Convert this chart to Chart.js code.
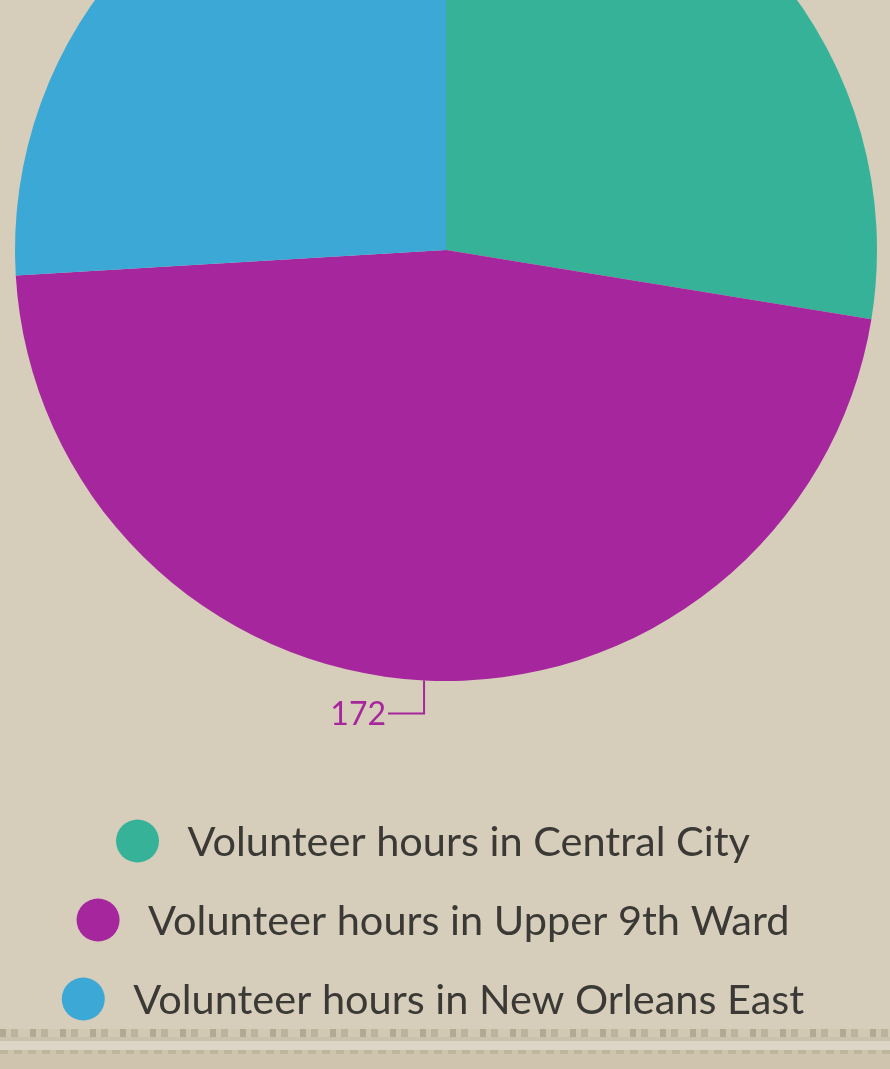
<!DOCTYPE html>
<html>
<head>
<meta charset="utf-8">
<script src="https://cdn.jsdelivr.net/npm/chart.js@4/dist/chart.umd.min.js"></script>
<style>
html,body{margin:0;padding:0;width:890px;height:1069px;overflow:hidden;background:#d6cdba;}
#wrap{position:absolute;left:0;top:-241px;width:890px;height:1310px;}
#strip1{position:absolute;left:0;top:1029px;width:890px;height:8px;
  background:repeating-linear-gradient(90deg,#b3a892 0 6px,#cfc6b1 6px 11px,#bdb29c 11px 18px,#d2c9b4 18px 30px);}
#strip2{position:absolute;left:0;top:1037px;width:890px;height:4px;background:#cbc2ad;}
#strip3{position:absolute;left:0;top:1041px;width:890px;height:9px;background:#ddd6c7;}
#strip4{position:absolute;left:0;top:1050px;width:890px;height:4px;
  background:repeating-linear-gradient(90deg,#bfb49d 0 8px,#cdc4ae 8px 14px);}
#strip5{position:absolute;left:0;top:1054px;width:890px;height:15px;background:#cfc5ae;}
</style>
</head>
<body>
<div id="wrap"><canvas id="c" width="890" height="1310"></canvas></div>
<div id="strip1"></div><div id="strip2"></div><div id="strip3"></div><div id="strip4"></div><div id="strip5"></div>
<script>
const categories = ['Volunteer hours in Central City', 'Volunteer hours in Upper 9th Ward', 'Volunteer hours in New Orleans East'];
const hours = [102, 172, 96];
const sliceColors = ['#36b298', '#a6269e', '#3ba8d6'];

const outLabels = {
  id: 'outLabels',
  afterDatasetsDraw(chart) {
    const ctx = chart.ctx;
    const meta = chart.getDatasetMeta(0);
    const ds = chart.data.datasets[0];
    ctx.save();
    meta.data.forEach((arc, i) => {
      const p = arc.getProps(['x', 'y', 'startAngle', 'endAngle', 'outerRadius'], true);
      const mid = (p.startAngle + p.endAngle) / 2;
      const c = Math.cos(mid), s = Math.sin(mid);
      const x1 = p.x + c * p.outerRadius, y1 = p.y + s * p.outerRadius;
      const x2 = x1, y2 = y1 + (s >= 0 ? 33 : -33);
      const right = c >= 0;
      const x3 = x2 + (right ? 36 : -36);
      ctx.strokeStyle = ds.backgroundColor[i];
      ctx.lineWidth = 2;
      ctx.beginPath();
      ctx.moveTo(x1, y1);
      ctx.lineTo(x2, y2);
      ctx.lineTo(x3, y2);
      ctx.stroke();
      ctx.fillStyle = ds.backgroundColor[i];
      ctx.font = '32px Lato';
      ctx.textAlign = right ? 'left' : 'right';
      ctx.textBaseline = 'alphabetic';
      ctx.fillText(String(ds.data[i]), x3 + (right ? 2 : -2), y2 + 12);
    });
    ctx.restore();
  }
};

const customLegend = {
  id: 'customLegend',
  afterDraw(chart) {
    const ctx = chart.ctx;
    const ds = chart.data.datasets[0];
    const cx = 433;
    const firstBase = chart.chartArea.bottom + 175;
    const rowGap = 79;
    ctx.save();
    ctx.font = '41.5px Lato';
    chart.data.labels.forEach((lab, i) => {
      const tw = ctx.measureText(lab).width;
      const total = 21.5 + 50 + tw;
      const left = cx - total / 2;
      const ccx = left + 21.5;
      const base = firstBase + i * rowGap;
      ctx.fillStyle = ds.backgroundColor[i];
      ctx.beginPath();
      ctx.arc(ccx, base - 15, 21.5, 0, Math.PI * 2);
      ctx.fill();
      ctx.fillStyle = '#3a3935';
      ctx.textAlign = 'left';
      ctx.textBaseline = 'alphabetic';
      ctx.fillText(lab, ccx + 50, base);
    });
    ctx.restore();
  }
};

new Chart(document.getElementById('c'), {
  type: 'pie',
  data: {
    labels: categories,
    datasets: [{ data: hours, backgroundColor: sliceColors, borderWidth: 0, hoverOffset: 0 }]
  },
  options: {
    responsive: false,
    animation: false,
    events: [],
    layout: { padding: { left: 15, right: 13, top: 60, bottom: 388 } },
    plugins: { legend: { display: false }, tooltip: { enabled: false } }
  },
  plugins: [outLabels, customLegend]
});
</script>
</body>
</html>
